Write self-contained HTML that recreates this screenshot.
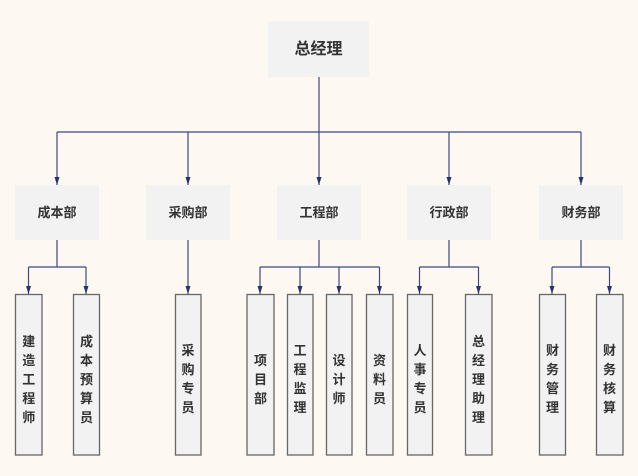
<!DOCTYPE html>
<html><head><meta charset="utf-8"><style>
html,body{margin:0;padding:0;background:#fdf8f2;}
svg{display:block;}
text{font-family:"Liberation Sans","Noto Sans CJK SC",sans-serif;font-weight:bold;fill:#333;}
</style></head><body>
<svg width="638" height="476" viewBox="0 0 638 476" xmlns="http://www.w3.org/2000/svg">
<defs><marker id="a" markerWidth="8" markerHeight="6" refX="8" refY="3" orient="auto" markerUnits="userSpaceOnUse"><path d="M0,0.5 L8,3 L0,5.5 Z" fill="#24336b"/></marker></defs>
<rect width="638" height="476" fill="#fdf8f2"/>
<g stroke="#3a4a80" stroke-width="1.2" fill="none">
<path d="M319,77 V132 M57,132 H581"/>
<path d="M57,132 V185" marker-end="url(#a)"/>
<path d="M188,132 V185" marker-end="url(#a)"/>
<path d="M319,132 V185" marker-end="url(#a)"/>
<path d="M449,132 V185" marker-end="url(#a)"/>
<path d="M581,132 V185" marker-end="url(#a)"/>
<path d="M57,240 V267 M28.5,267 H86"/>
<path d="M28.5,267 V294" marker-end="url(#a)"/>
<path d="M86,267 V294" marker-end="url(#a)"/>
<path d="M188,240 V294" marker-end="url(#a)"/>
<path d="M319,240 V267 M260,267 H379.5"/>
<path d="M260,267 V294" marker-end="url(#a)"/>
<path d="M300,267 V294" marker-end="url(#a)"/>
<path d="M339,267 V294" marker-end="url(#a)"/>
<path d="M379.5,267 V294" marker-end="url(#a)"/>
<path d="M449,240 V267 M419.5,267 H478.5"/>
<path d="M419.5,267 V294" marker-end="url(#a)"/>
<path d="M478.5,267 V294" marker-end="url(#a)"/>
<path d="M581,240 V267 M552,267 H609.5"/>
<path d="M552,267 V294" marker-end="url(#a)"/>
<path d="M609.5,267 V294" marker-end="url(#a)"/>
</g>
<g fill="#f2f2f2">
<rect x="268" y="21" width="101" height="56"/>
<rect x="15" y="185" width="84" height="55"/>
<rect x="146" y="185" width="84" height="55"/>
<rect x="277" y="185" width="84" height="55"/>
<rect x="407" y="185" width="84" height="55"/>
<rect x="539" y="185" width="84" height="55"/>
</g>
<g fill="#f2f2f2" stroke="#666" stroke-width="1.3">
<rect x="15.5" y="294.5" width="26.5" height="160.5"/>
<rect x="73.5" y="294.5" width="26" height="160.5"/>
<rect x="175.5" y="294.5" width="25.5" height="160.5"/>
<rect x="247" y="294.5" width="27" height="160.5"/>
<rect x="287.5" y="294.5" width="25.5" height="160.5"/>
<rect x="326.5" y="294.5" width="25.5" height="160.5"/>
<rect x="366.5" y="294.5" width="26.5" height="160.5"/>
<rect x="407.5" y="294.5" width="25" height="160.5"/>
<rect x="465.5" y="294.5" width="26.5" height="160.5"/>
<rect x="539.5" y="294.5" width="26" height="160.5"/>
<rect x="596.5" y="294.5" width="26.5" height="160.5"/>
</g>
<g text-anchor="middle" font-size="16"><text x="318.5" y="54">总经理</text></g>
<g text-anchor="middle" font-size="13">
<text x="57" y="217">成本部</text>
<text x="188" y="217">采购部</text>
<text x="319" y="217">工程部</text>
<text x="449" y="217">行政部</text>
<text x="581" y="217">财务部</text>
</g>
<g text-anchor="middle" font-size="13">
<text x="28.7" y="346">建</text><text x="28.7" y="365">造</text><text x="28.7" y="384">工</text><text x="28.7" y="403">程</text><text x="28.7" y="422">师</text>
<text x="86.5" y="346">成</text><text x="86.5" y="365">本</text><text x="86.5" y="384">预</text><text x="86.5" y="403">算</text><text x="86.5" y="422">员</text>
<text x="188" y="355">采</text><text x="188" y="374">购</text><text x="188" y="393">专</text><text x="188" y="412">员</text>
<text x="260.5" y="365">项</text><text x="260.5" y="384">目</text><text x="260.5" y="403">部</text>
<text x="300" y="355">工</text><text x="300" y="374">程</text><text x="300" y="393">监</text><text x="300" y="412">理</text>
<text x="339" y="365">设</text><text x="339" y="384">计</text><text x="339" y="403">师</text>
<text x="379.5" y="365">资</text><text x="379.5" y="384">料</text><text x="379.5" y="403">员</text>
<text x="420" y="355">人</text><text x="420" y="374">事</text><text x="420" y="393">专</text><text x="420" y="412">员</text>
<text x="478.5" y="346">总</text><text x="478.5" y="365">经</text><text x="478.5" y="384">理</text><text x="478.5" y="403">助</text><text x="478.5" y="422">理</text>
<text x="552.5" y="355">财</text><text x="552.5" y="374">务</text><text x="552.5" y="393">管</text><text x="552.5" y="412">理</text>
<text x="609.5" y="355">财</text><text x="609.5" y="374">务</text><text x="609.5" y="393">核</text><text x="609.5" y="412">算</text>
</g>
</svg>
</body></html>
